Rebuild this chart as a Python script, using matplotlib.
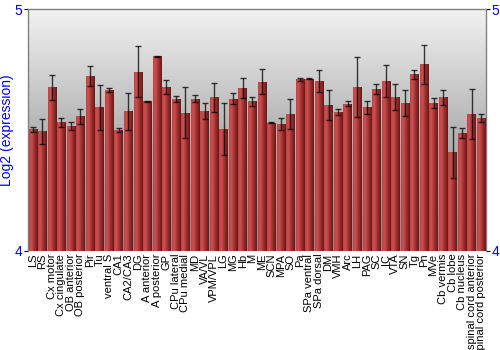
import numpy as np
import matplotlib
matplotlib.use("Agg")
import matplotlib.pyplot as plt
from matplotlib.colors import LinearSegmentedColormap

regions = ["LS", "RS", "Cx motor", "Cx cingulate", "OB anterior", "OB posterior", "Pir", "Tu",
           "ventral S", "CA1", "CA2/CA3", "DG", "A anterior", "A posterior", "GP", "CPu lateral",
           "CPu medial", "MD", "VA/VL", "VPM/VPL", "LG", "MG", "Hb", "M", "ME", "SCN", "MPA", "SO",
           "Pa", "SPa ventral", "SPa dorsal", "DM", "VMH", "Arc", "LH", "PAG", "SC", "IC", "VTA",
           "SN", "Tg", "Pn", "MVe", "Cb vermis", "Cb lobe", "Cb nucleus", "spinal cord anterior",
           "spinal cord posterior"]
values = [4.503, 4.496, 4.677, 4.533, 4.517, 4.557, 4.725, 4.595,
          4.667, 4.501, 4.579, 4.743, 4.620, 4.807, 4.678, 4.630,
          4.573, 4.631, 4.579, 4.637, 4.504, 4.630, 4.674, 4.620, 4.700, 4.530, 4.526, 4.569,
          4.710, 4.714, 4.704, 4.606, 4.575, 4.610, 4.678, 4.594, 4.671, 4.705, 4.639,
          4.612, 4.732, 4.773, 4.612, 4.637, 4.408, 4.489, 4.568,
          4.550]
errors = [0.010, 0.052, 0.053, 0.019, 0.015, 0.032, 0.041, 0.093,
          0.008, 0.009, 0.077, 0.107, 0.002, 0.002, 0.028, 0.013,
          0.104, 0.014, 0.032, 0.060, 0.108, 0.022, 0.042, 0.018, 0.052, 0.002, 0.026, 0.062,
          0.007, 0.004, 0.046, 0.062, 0.011, 0.010, 0.125, 0.028, 0.021, 0.067, 0.054,
          0.055, 0.019, 0.080, 0.022, 0.031, 0.105, 0.020, 0.103,
          0.017]
y_ticks = [4, 5]

plt.rcParams['font.family'] = ['Liberation Sans', 'DejaVu Sans']

fig = plt.figure(figsize=(5, 3.5), dpi=100)
ax = fig.add_axes([0.056, 0.283, 0.916, 0.690])

n = len(regions)
x = np.arange(n)
ax.set_xlim(-0.5, n - 0.5)
ax.set_ylim(4, 5)

# background vertical gradient
bg = LinearSegmentedColormap.from_list("bg", ["#8c8c8c", "#b4b4b4", "#f2f2f2"])
grad = np.linspace(0, 1, 256).reshape(-1, 1)
ax.imshow(grad, cmap=bg, aspect="auto", origin="lower",
          extent=(-0.5, n - 0.5, 4, 5), zorder=0)

bars = ax.bar(x, values, width=0.88, bottom=0, color="#a83030", edgecolor="none", zorder=2)
barcmap = LinearSegmentedColormap.from_list(
    "bar", [(0, "#b84444"), (0.25, "#cc5252"), (0.55, "#a83434"), (1.0, "#6c1616")])
hgrad = np.linspace(0, 1, 64).reshape(1, -1)
for p in bars:
    x0 = p.get_x()
    w, h = p.get_width(), p.get_height()
    im = ax.imshow(hgrad, cmap=barcmap, aspect="auto",
                   extent=(x0, x0 + w, 4, h), zorder=3)
    im.set_clip_path(p)

ax.errorbar(x, values, yerr=errors, fmt="none", ecolor="black", elinewidth=1,
            capsize=2.5, capthick=1, alpha=0.75, zorder=4)

ax.set_yticks(y_ticks)
ax.set_yticklabels([str(t) for t in y_ticks], color="blue", fontsize=10)
ax.tick_params(axis="y", which="both", length=3, width=0.8, right=True, labelright=True,
               pad=1)
ax.set_xticks(x)
ax.set_xticklabels(regions, rotation=90, fontsize=8)
ax.tick_params(axis="x", length=0, pad=2)
ax.set_ylabel("Log2 (expression)", color="blue", fontsize=10)
ax.yaxis.set_label_coords(-0.03, 0.5)

for s in ["left", "top", "right"]:
    ax.spines[s].set_color("#808080")
    ax.spines[s].set_linewidth(1)
ax.spines["bottom"].set_visible(False)

fig.savefig("out.png", dpi=100)
